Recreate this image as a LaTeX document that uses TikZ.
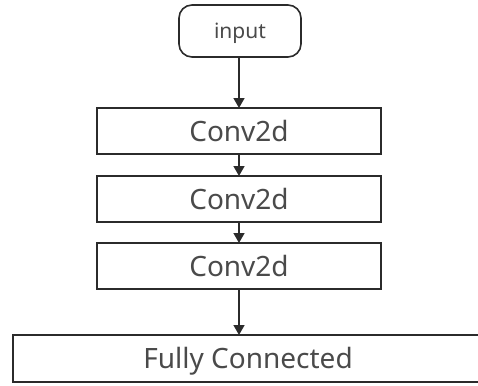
\documentclass[tikz,border=0pt]{standalone}
\usepackage{fontspec}
\setmainfont{Noto Sans}
\usetikzlibrary{positioning, arrows.meta}

\definecolor{edgegray}{HTML}{2B2B2B}
\definecolor{textgray}{HTML}{4A4A4A}

\begin{document}
\begin{tikzpicture}[
    x=1pt, y=-1pt,
    startbox/.style={draw=edgegray, line width=1.6pt, rounded corners=13pt,
        minimum width=122pt, minimum height=52pt, inner sep=0pt, outer sep=0pt,
        text=textgray, text height=16pt, text depth=0pt,
        font=\fontsize{21}{23}\selectfont},
    layer/.style={draw=edgegray, line width=1.6pt,
        minimum width=284pt, minimum height=46pt, inner sep=0pt, outer sep=0pt,
        text=textgray, text height=20pt, text depth=0pt,
        font=\fontsize{28}{30}\selectfont},
    flow/.style={-{Triangle[width=11pt,length=10pt]}, line width=1.6pt, draw=edgegray}]
    \useasboundingbox (0,0) rectangle (478,385);
    % Input and the three convolution layers
    \node[startbox] (in) at (240,31) {input};
    \node[layer, below=51pt of in, xshift=-1pt] (conv1) {Conv2d};
    \node[layer, below=22pt of conv1] (conv2) {Conv2d};
    \node[layer, below=21pt of conv2] (conv3) {Conv2d};
    % Output layer
    \node[layer, minimum width=470pt, minimum height=47pt,
        below=46pt of conv3, xshift=9pt] (fc) {Fully Connected};

    \draw[flow] (conv1.north |- in.south) -- (conv1.north);
    \draw[flow] (conv1) -- (conv2);
    \draw[flow] (conv2) -- (conv3);
    \draw[flow] (conv3.south) -- (conv3.south |- fc.north);
\end{tikzpicture}
\end{document}
